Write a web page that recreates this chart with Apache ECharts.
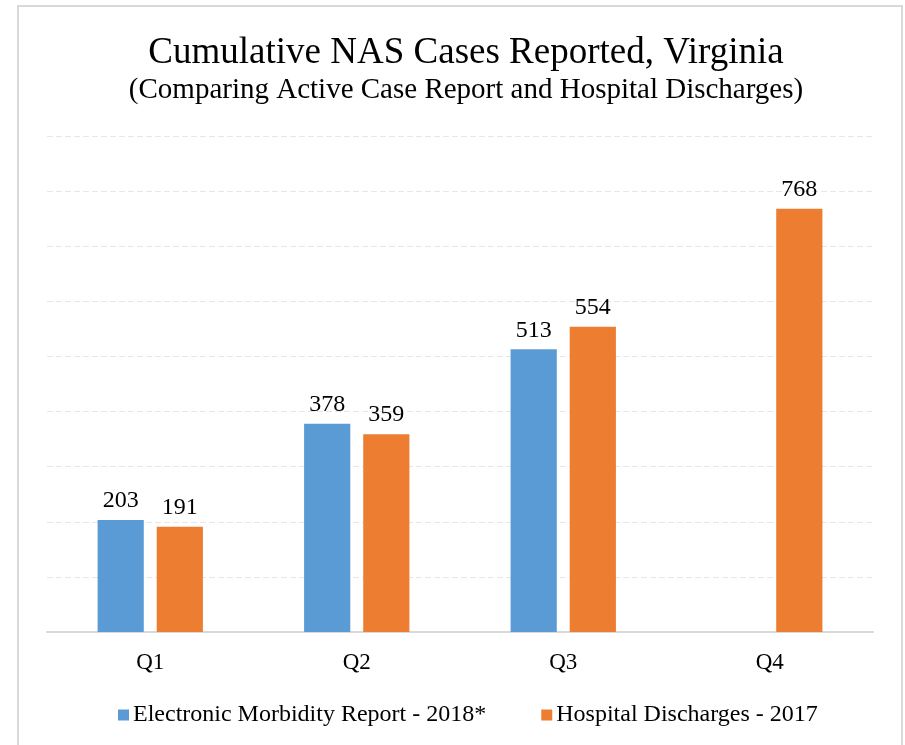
<!DOCTYPE html>
<html>
<head>
<meta charset="utf-8">
<script src="https://cdn.jsdelivr.net/npm/echarts@6/dist/echarts.min.js"></script>
<style>
  html, body { margin: 0; padding: 0; background: #fff; }
  #chart { width: 905px; height: 745px; }
</style>
</head>
<body>
<div id="chart"></div>
<script>
const categories = ['Q1', 'Q2', 'Q3', 'Q4']
const emrValues = [203, 378, 513, null]
const dischargeValues = [191, 359, 554, 768]

const serif = '"Liberation Serif", "Times New Roman", serif'

const chart = echarts.init(document.getElementById('chart'))

const labelStyle = {
  show: true,
  position: 'top',
  distance: 7,
  color: '#000',
  fontFamily: serif,
  fontSize: 24,
}

const option = {
  animation: false,
  graphic: [
    {
      type: 'rect',
      shape: { x: 18, y: 6, width: 884, height: 760 },
      style: { fill: 'none', stroke: '#d9d9d9', lineWidth: 2 },
      silent: true,
    },
  ],
  title: {
    text: 'Cumulative NAS Cases Reported, Virginia',
    subtext: '(Comparing Active Case Report and Hospital Discharges)',
    left: 461,
    textAlign: 'center',
    top: 30,
    itemGap: 4,
    textStyle: { fontFamily: serif, fontSize: 37, fontWeight: 'normal', color: '#000' },
    subtextStyle: { fontFamily: serif, fontSize: 29, color: '#000' },
  },
  legend: {
    bottom: 13,
    left: 113,
    itemWidth: 11,
    itemHeight: 11,
    itemGap: 55,
    icon: 'rect',
    textStyle: { fontFamily: serif, fontSize: 24, color: '#000', padding: [0, 0, 0, -1] },
    data: ['Electronic Morbidity Report - 2018*', 'Hospital Discharges - 2017'],
  },
  grid: { left: 47, right: 32, top: 136, bottom: 113 },
  xAxis: {
    type: 'category',
    data: categories,
    axisLine: { lineStyle: { color: '#d9d9d9', width: 2 } },
    axisTick: { show: false },
    axisLabel: { fontFamily: serif, fontSize: 23, color: '#000', margin: 19 },
  },
  yAxis: {
    type: 'value',
    min: 0,
    max: 900,
    interval: 100,
    axisLabel: { show: false },
    axisLine: { show: false },
    axisTick: { show: false },
    splitLine: { lineStyle: { color: '#e6e6e6', type: [6, 3], width: 1 } },
  },
  series: [
    {
      name: 'Electronic Morbidity Report - 2018*',
      type: 'bar',
      data: emrValues,
      barGap: '28%',
      barCategoryGap: '49%',
      itemStyle: { color: '#5b9bd5' },
      label: labelStyle,
    },
    {
      name: 'Hospital Discharges - 2017',
      type: 'bar',
      data: dischargeValues,
      itemStyle: { color: '#ed7d31' },
      label: labelStyle,
    },
  ],
}

chart.setOption(option)
</script>
</body>
</html>
